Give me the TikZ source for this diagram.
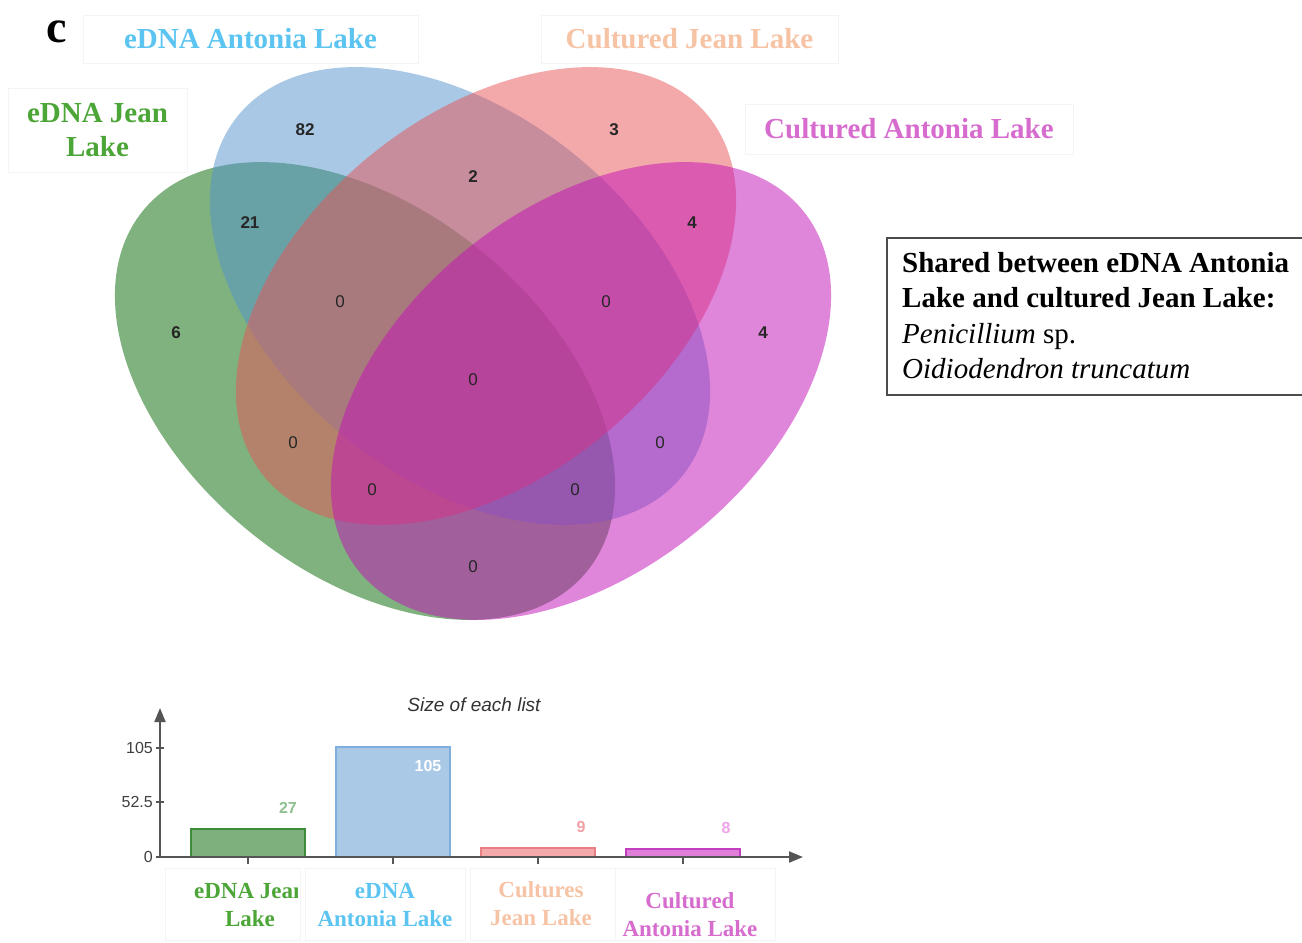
\documentclass[tikz,border=0pt]{standalone}
\usepackage{fontspec}
\setmainfont{Liberation Serif}
\setsansfont{Liberation Sans}
\usetikzlibrary{arrows.meta}
\definecolor{vgreen}{HTML}{006600}
\definecolor{vblue}{HTML}{5393CD}
\definecolor{vsalmon}{HTML}{E95357}
\definecolor{vmag}{HTML}{C30FB7}
\definecolor{tgreen}{HTML}{4CA537}
\definecolor{tblue}{HTML}{5BC4F1}
\definecolor{tpeach}{HTML}{F7C3A5}
\definecolor{tmag}{HTML}{D66CCE}
\definecolor{faint}{HTML}{F4F4F4}
\definecolor{axisgray}{HTML}{555555}
\definecolor{bgreenf}{HTML}{7EB07E}
\definecolor{bgreend}{HTML}{3C8C3C}
\definecolor{bbluef}{HTML}{A9C9E6}
\definecolor{bblued}{HTML}{7FB0DD}
\definecolor{bsalf}{HTML}{F4A9AB}
\definecolor{bsald}{HTML}{E87F84}
\definecolor{bmagf}{HTML}{E07FD9}
\definecolor{bmagd}{HTML}{C43EC0}
\definecolor{v27}{HTML}{8FC08F}
\definecolor{v9}{HTML}{F2A0A4}
\definecolor{v8}{HTML}{EFA3E8}
\begin{document}
\begin{tikzpicture}[x=1pt,y=-1pt,
  venn/.style={fill opacity=0.5},
  num/.style={font=\sffamily\fontsize{17}{17}\selectfont, text=black!85, inner sep=0pt},
  bnum/.style={num, font=\sffamily\bfseries\fontsize{17}{17}\selectfont},
  toplbl/.style={draw=faint, line width=0.8, inner sep=0pt, align=center,
     font=\bfseries\fontsize{29}{35}\selectfont},
  sharedtxt/.style={anchor=base west, inner sep=0pt, font=\fontsize{29}{35}\selectfont},
  axis/.style={draw=axisgray, line width=2},
  ticklbl/.style={anchor=east, inner sep=0pt, text=black!75, font=\sffamily\fontsize{16}{16}\selectfont},
  vallbl/.style={inner sep=0pt, font=\sffamily\bfseries\fontsize{16}{16}\selectfont},
  catlbl/.style={inner sep=0pt, align=center, font=\bfseries\fontsize{23}{28}\selectfont},
  catbox/.style={draw=faint, line width=0.8}
]
\useasboundingbox[fill=white] (0,0) rectangle (1302,943);

% Venn ellipses
\fill[venn, vgreen, rotate around={-39:(365,391)}] (365,391) ellipse [x radius=286, y radius=182];
\fill[venn, vblue, rotate around={-39:(460,296)}] (460,296) ellipse [x radius=286, y radius=182];
\fill[venn, vsalmon, rotate around={39:(486,296)}] (486,296) ellipse [x radius=286, y radius=182];
\fill[venn, vmag, rotate around={39:(581,391)}] (581,391) ellipse [x radius=286, y radius=182];

% region counts
\node[bnum] (n82) at (305,130) {82};
\node[bnum] (n3) at (614,130) {3};
\node[bnum] (n2) at (473,177) {2};
\node[bnum] (n21) at (250,223) {21};
\node[bnum] (n4a) at (692,223) {4};
\node[bnum] (n6) at (176,333) {6};
\node[num] (nab) at (340,302) {0};
\node[num] (ncd) at (606,302) {0};
\node[bnum] (n4b) at (763,333) {4};
\node[num] (nall) at (473,380) {0};
\node[num] (nac) at (293,443) {0};
\node[num] (nbd) at (660,443) {0};
\node[num] (nacd) at (372,490) {0};
\node[num] (nabd) at (575,490) {0};
\node[num] (nad) at (473,567) {0};

% panel letter and set labels
\node[inner sep=0pt, font=\bfseries\fontsize{46}{46}\selectfont] (panel) at (57,32) {c};
\node[toplbl, text=tblue, minimum width=335, minimum height=48] (lblB) at (250.5,39) {eDNA Antonia Lake};
\node[toplbl, text=tpeach, minimum width=297, minimum height=48] (lblC) at (689.5,39) {Cultured Jean Lake};
\node[toplbl, text=tmag, minimum width=328, minimum height=50] (lblD) at (909,129) {Cultured Antonia Lake};
\node[toplbl, text=tgreen, minimum width=179, minimum height=84] (lblA) at (97.5,130) {eDNA Jean\\[-1pt]Lake};

% shared box
\begin{scope}
\clip (0,0) rectangle (1302,943);
\draw[black!70, line width=1.3] (887,238) rectangle (1320,395);
\end{scope}
\node[sharedtxt] (sh1) at (902,272) {\bfseries Shared between eDNA Antonia};
\node[sharedtxt] (sh2) at (902,307) {\bfseries Lake and cultured Jean Lake:};
\node[sharedtxt] (sh3) at (902,343) {\textit{Penicillium} sp.};
\node[sharedtxt] (sh4) at (902,378) {\textit{Oidiodendron truncatum}};

% bar chart
\node[inner sep=0pt, text=black!80, font=\sffamily\itshape\fontsize{19}{19}\selectfont] (title) at (474,705) {Size of each list};
\coordinate (orig) at (160,857);
\coordinate (ytip) at (160,708);
\coordinate (xtip) at (803,857);

\draw[draw=bgreend, fill=bgreenf, line width=1.5] (191,857) rectangle (305,829);
\draw[draw=bblued, fill=bbluef, line width=1.5] (336,857) rectangle (450,747);
\draw[draw=bsald, fill=bsalf, line width=1.5] (481,857) rectangle (595,848);
\draw[draw=bmagd, fill=bmagf, line width=1.5] (626,857) rectangle (740,849);

\draw[axis, -{Triangle[length=14pt,width=11pt]}] (orig) -- (ytip);
\draw[axis, -{Triangle[length=14pt,width=11pt]}] (orig) -- (xtip);
\foreach \yy in {748,802,857} \draw[axisgray, line width=1.2] (156,\yy) -- (164,\yy);
\foreach \xx in {248,393,538,683} \draw[axisgray, line width=1.2] (\xx,857) -- (\xx,864);
\node[ticklbl] (t105) at (153,748) {105};
\node[ticklbl] (t52) at (153,802) {52.5};
\node[ticklbl] (t0) at (153,857) {0};

\node[vallbl, text=v27] (v27n) at (288,808) {27};
\node[vallbl, text=white] (v105n) at (428,766) {105};
\node[vallbl, text=v9] (v9n) at (581,827) {9};
\node[vallbl, text=v8] (v8n) at (726,828) {8};

% category labels
\draw[catbox] (165,868) rectangle (300,940);
\draw[catbox] (305,868) rectangle (465,940);
\draw[catbox] (470,868) rectangle (615,940);
\draw[catbox] (615,868) rectangle (775,940);
\begin{scope}
\clip (160,860) rectangle (297,943);
\node[catlbl, text=tgreen] (cA) at (250,905) {eDNA Jean\\Lake};
\end{scope}
\node[catlbl, text=tblue] (cB) at (385,905) {eDNA\\Antonia Lake};
\node[catlbl, text=tpeach] (cC) at (541,904) {Cultures\\Jean Lake};
\node[catlbl, text=tmag] (cD) at (690,915) {Cultured\\Antonia Lake};
\end{tikzpicture}
\end{document}
